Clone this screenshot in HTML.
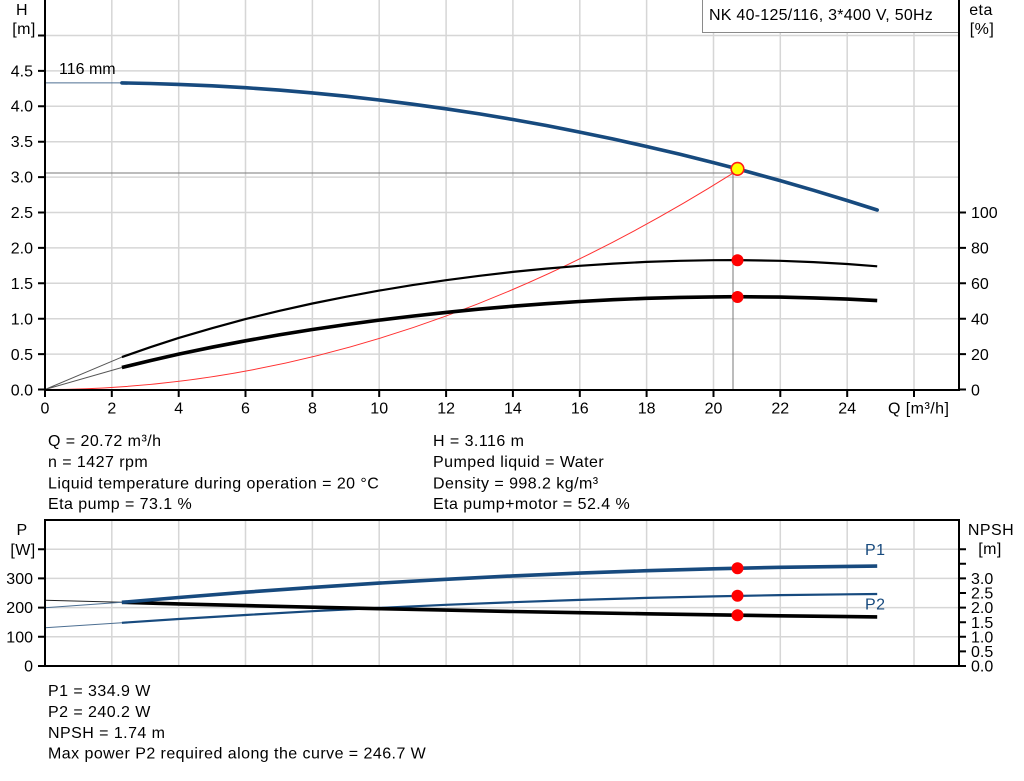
<!DOCTYPE html>
<html><head><meta charset="utf-8"><style>
html,body{margin:0;padding:0;background:#fff;}
svg{display:block;}
text{font-family:"Liberation Sans",Arial,sans-serif;fill:#000;}
.t{font-size:16px;letter-spacing:0.45px;}
.k{font-size:16px;}
</style></head><body>
<svg width="1024" height="781" viewBox="0 0 1024 781" xmlns="http://www.w3.org/2000/svg">
<rect x="0" y="0" width="1024" height="781" fill="#fff"/>
<!-- TOP CHART GRID -->
<g stroke="#d6d6d6" stroke-width="1.5" fill="none">
<path d="M111.8 0V390M178.7 0V390M245.5 0V390M312.4 0V390M379.2 0V390M446.1 0V390M512.9 0V390M579.8 0V390M646.6 0V390M713.5 0V390M780.3 0V390M847.2 0V390M914 0V390"/>
<path d="M45 354.1H959M45 318.7H959M45 283.3H959M45 247.9H959M45 212.5H959M45 177.1H959M45 141.7H959M45 106.3H959M45 70.9H959M45 35.5H959"/>
</g>
<!-- legend box -->
<rect x="702.5" y="-1" width="256" height="33.5" fill="#fff" stroke="#8a8a8a" stroke-width="1"/>
<text class="t" x="709" y="20" style="letter-spacing:0.25px">NK 40-125/116, 3*400 V, 50Hz</text>
<!-- crosshair -->
<path d="M45 173H733V390" stroke="#7a7a7a" stroke-width="1" fill="none"/>
<!-- system curve -->
<path d="M45 389.5Q389 389.5 733 173.2" stroke="#ff3030" stroke-width="1" fill="none"/>
<!-- extensions -->
<path d="M45 82.9H122" stroke="#4d6f92" stroke-width="1" fill="none"/>
<path d="M45 389.5L121.9 357.1M45 389.5L121.9 367.5" stroke="#555" stroke-width="1" fill="none"/>
<!-- H curve -->
<polyline points="121.9,82.9 150.3,83.5 178.7,84.4 212.1,85.8 245.5,87.7 279,90.1 312.4,92.9 345.8,96.2 379.2,100.0 412.6,104.2 446,108.8 479.5,113.9 512.9,119.5 546.3,125.5 579.7,132.1 613.1,139.0 646.6,146.5 680,154.3 713.4,162.6 737.5,168.9 780.2,180.6 813.6,190.3 847.1,200.5 877.2,210.0" fill="none" stroke="#174a7e" stroke-width="3.6" stroke-linecap="round" stroke-linejoin="round"/>
<!-- eta pump -->
<polyline points="121.9,357.1 150.3,347.2 178.7,337.9 212.1,328.2 245.5,319.1 279,310.9 312.4,303.5 345.8,296.8 379.2,290.6 412.6,285.1 446,280.2 479.5,275.8 512.9,271.9 546.3,268.6 579.7,265.8 613.1,263.6 646.6,261.9 680,260.8 713.4,260.2 737.5,260.1 780.2,260.8 813.6,262.1 847.1,264.0 877.2,266.3" fill="none" stroke="#000" stroke-width="2.2" stroke-linejoin="round"/>
<!-- eta total -->
<polyline points="121.9,367.5 150.3,360.6 178.7,354.1 212.1,347.2 245.5,340.8 279,334.9 312.4,329.5 345.8,324.6 379.2,320.1 412.6,316.1 446,312.4 479.5,309.1 512.9,306.2 546.3,303.7 579.7,301.5 613.1,299.7 646.6,298.3 680,297.4 713.4,296.9 737.5,296.7 780.2,297.1 813.6,297.9 847.1,299.1 877.2,300.6" fill="none" stroke="#000" stroke-width="3.6" stroke-linejoin="round"/>
<!-- points -->
<circle cx="737.5" cy="168.9" r="6.3" fill="#ffff00" stroke="#ff1a1a" stroke-width="1.6"/>
<circle cx="737.5" cy="260.3" r="6" fill="#ff0000"/>
<circle cx="737.5" cy="297" r="6" fill="#ff0000"/>
<!-- axes -->
<g stroke="#000" stroke-width="2" fill="none">
<path d="M45 0V391M44 390H960M959 0V391"/>
<path d="M38 389.5H45M38 354.1H45M38 318.7H45M38 283.3H45M38 247.9H45M38 212.5H45M38 177.1H45M38 141.7H45M38 106.3H45M38 70.9H45M38 35.5H45"/>
<path d="M959 389.5H966M959 354.1H966M959 318.7H966M959 283.3H966M959 247.9H966M959 212.5H966"/>
<path d="M45 390V397M111.8 390V397M178.7 390V397M245.5 390V397M312.4 390V397M379.2 390V397M446.1 390V397M512.9 390V397M579.8 390V397M646.6 390V397M713.5 390V397M780.3 390V397M847.2 390V397M914 390V397"/>
</g>
<g class="k" text-anchor="end">
<text x="33" y="395.5">0.0</text><text x="33" y="360">0.5</text><text x="33" y="324.5">1.0</text><text x="33" y="289">1.5</text><text x="33" y="253.5">2.0</text><text x="33" y="218">2.5</text><text x="33" y="182.5">3.0</text><text x="33" y="147">3.5</text><text x="33" y="111.5">4.0</text><text x="33" y="76.5">4.5</text>
</g>
<g class="k" text-anchor="start">
<text x="971" y="395.5">0</text><text x="971" y="360">20</text><text x="971" y="324.5">40</text><text x="971" y="289">60</text><text x="971" y="253.5">80</text><text x="971" y="218">100</text>
</g>
<g class="k" text-anchor="middle">
<text x="45" y="413.5">0</text><text x="111.8" y="413.5">2</text><text x="178.7" y="413.5">4</text><text x="245.5" y="413.5">6</text><text x="312.4" y="413.5">8</text><text x="379.2" y="413.5">10</text><text x="446.1" y="413.5">12</text><text x="512.9" y="413.5">14</text><text x="579.8" y="413.5">16</text><text x="646.6" y="413.5">18</text><text x="713.5" y="413.5">20</text><text x="780.3" y="413.5">22</text><text x="847.2" y="413.5">24</text>
</g>
<text class="t" x="888" y="413.5">Q [m³/h]</text>
<text class="t" x="22" y="15" text-anchor="middle">H</text>
<text class="t" x="24" y="34" text-anchor="middle">[m]</text>
<text class="t" x="981" y="15" text-anchor="middle">eta</text>
<text class="t" x="982" y="34" text-anchor="middle">[%]</text>
<text class="t" x="59" y="74" style="letter-spacing:0">116 mm</text>

<!-- INFO TEXT -->
<g class="t">
<text x="48" y="446">Q = 20.72 m³/h</text>
<text x="48" y="467">n = 1427 rpm</text>
<text x="48" y="488.5">Liquid temperature during operation = 20 °C</text>
<text x="48" y="509">Eta pump = 73.1 %</text>
<text x="433" y="446">H = 3.116 m</text>
<text x="433" y="467">Pumped liquid = Water</text>
<text x="433" y="488.5">Density = 998.2 kg/m³</text>
<text x="433" y="509">Eta pump+motor = 52.4 %</text>
</g>

<!-- BOTTOM CHART GRID -->
<g stroke="#d6d6d6" stroke-width="1.5" fill="none">
<path d="M111.8 520V666M178.7 520V666M245.5 520V666M312.4 520V666M379.2 520V666M446.1 520V666M512.9 520V666M579.8 520V666M646.6 520V666M713.5 520V666M780.3 520V666M847.2 520V666M914 520V666"/>
<path d="M45 636.8H959M45 607.6H959M45 578.4H959M45 549.2H959"/>
</g>
<!-- extensions -->
<path d="M45 600.3L121.9 602.3" stroke="#222" stroke-width="1" fill="none"/>
<path d="M45 607.7L121.9 602.3M45 627.7L121.9 622.8" stroke="#4d6f92" stroke-width="1" fill="none"/>
<!-- P2 -->
<polyline points="121.9,622.8 178.7,619.0 245.5,615.0 312.4,611.2 379.2,607.9 446,604.8 512.9,602.2 579.7,599.9 646.6,597.9 713.4,596.4 780.2,595.1 847.1,594.3 877.2,594.0" fill="none" stroke="#174a7e" stroke-width="2.2" stroke-linejoin="round"/>
<!-- NPSH -->
<polyline points="121.9,602.3 178.7,603.9 245.5,605.6 312.4,607.2 379.2,608.7 446,610.1 512.9,611.5 579.7,612.7 646.6,613.8 713.4,614.8 780.2,615.8 847.1,616.6 877.2,616.9" fill="none" stroke="#000" stroke-width="3.6" stroke-linejoin="round"/>
<!-- P1 -->
<polyline points="121.9,602.3 178.7,597.5 245.5,592.2 312.4,587.4 379.2,583.1 446,579.3 512.9,575.9 579.7,573.1 646.6,570.7 713.4,568.8 780.2,567.3 847.1,566.4 877.2,566.1" fill="none" stroke="#174a7e" stroke-width="3.6" stroke-linejoin="round"/>
<circle cx="737.5" cy="568.3" r="6" fill="#ff0000"/>
<circle cx="737.5" cy="595.8" r="6" fill="#ff0000"/>
<circle cx="737.5" cy="615.2" r="6" fill="#ff0000"/>
<text class="t" x="865" y="555" style="fill:#174a7e">P1</text>
<text class="t" x="865" y="609.5" style="fill:#174a7e">P2</text>
<!-- axes -->
<g stroke="#000" stroke-width="2" fill="none">
<rect x="45" y="520" width="914" height="146"/>
<path d="M38 666H45M38 636.8H45M38 607.6H45M38 578.4H45M38 549.2H45"/>
<path d="M959 666H966M959 651.4H966M959 636.8H966M959 622.2H966M959 607.6H966M959 593H966M959 578.4H966M959 563.8H966M959 549.2H966"/>
</g>
<g class="k" text-anchor="end">
<text x="33" y="671.5">0</text><text x="33" y="642.5">100</text><text x="33" y="613">200</text><text x="33" y="584">300</text>
</g>
<g class="k" text-anchor="start">
<text x="971" y="671.5">0.0</text><text x="971" y="657">0.5</text><text x="971" y="642.5">1.0</text><text x="971" y="628">1.5</text><text x="971" y="613">2.0</text><text x="971" y="598.5">2.5</text><text x="971" y="584">3.0</text>
</g>
<text class="t" x="22" y="535" text-anchor="middle">P</text>
<text class="t" x="23" y="555" text-anchor="middle">[W]</text>
<text class="t" x="991" y="535" text-anchor="middle">NPSH</text>
<text class="t" x="990" y="554" text-anchor="middle">[m]</text>

<!-- BOTTOM INFO -->
<g class="t">
<text x="48" y="696">P1 = 334.9 W</text>
<text x="48" y="717">P2 = 240.2 W</text>
<text x="48" y="738">NPSH = 1.74 m</text>
<text x="48" y="758.5">Max power P2 required along the curve = 246.7 W</text>
</g>
</svg>
</body></html>
